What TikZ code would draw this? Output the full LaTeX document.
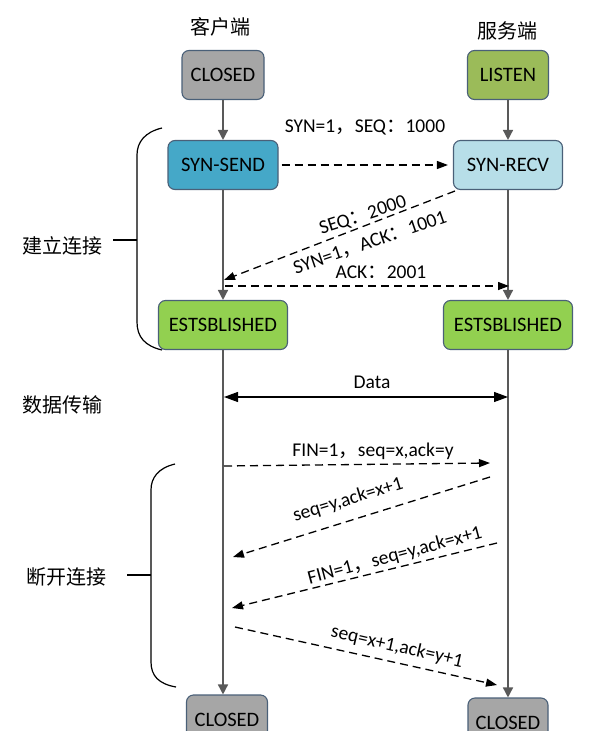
\documentclass[tikz,border=0pt]{standalone}
\usepackage{fontspec}
\setmainfont{Carlito}
\newfontfamily\cjk{Noto Sans CJK SC}
\usepackage{tikz}
\usetikzlibrary{shapes,arrows.meta,positioning,calc}

\definecolor{boxline}{HTML}{4A6078}
\definecolor{lifegray}{HTML}{595959}
\definecolor{closedgray}{HTML}{A6A6A6}
\definecolor{listengreen}{HTML}{9BBB59}
\definecolor{sendblue}{HTML}{45A8C8}
\definecolor{recvblue}{HTML}{B7DEE8}
\definecolor{estgreen}{HTML}{92D050}

\begin{document}
\begin{tikzpicture}[x=1pt, y=-1pt,
    state/.style={rectangle, rounded corners=7pt, draw=boxline, line width=1.1pt, minimum height=49pt, inner sep=0pt, font=\fontsize{20.5}{24}\selectfont},
    life/.style={draw=lifegray, line width=1.5pt, -{Triangle[length=10pt,width=10pt,fill=lifegray]}},
    msg/.style={dash pattern=on 8pt off 5pt, line width=1.3pt, -{Triangle[length=11pt,width=8pt]}},
    lbl/.style={font=\fontsize{19.5}{23}\selectfont, inner sep=0pt},
    side/.style={font=\cjk\fontsize{20}{24}\selectfont, inner sep=0pt},
    brace/.style={line width=1.2pt}]
        \useasboundingbox (0,0) rectangle (598,731);
        \clip (0,0) rectangle (598,731);

        \node (cliTitle) [side] at (220,27) {客户端};
        \node (srvTitle) [side] at (507,31) {服务端};

        \node (cliClosed) [state, fill=closedgray, minimum width=82pt] at (223,75) {CLOSED};
        \node (srvListen) [state, fill=listengreen, minimum width=81pt] at (508,75) {LISTEN};
        \node (synSend) [state, fill=sendblue, minimum width=110pt] at (223,165) {SYN-SEND};
        \node (synRecv) [state, fill=recvblue, minimum width=109pt] at (508,165) {SYN-RECV};
        \node (cliEst) [state, fill=estgreen, minimum width=129pt] at (223,325) {ESTSBLISHED};
        \node (srvEst) [state, fill=estgreen, minimum width=129pt] at (508,325) {ESTSBLISHED};
        \node (cliEnd) [state, fill=closedgray, minimum width=81pt] at (227,719.5) {CLOSED};
        \node (srvEnd) [state, fill=closedgray, minimum width=80pt] at (508,722.5) {CLOSED};

        \draw[life] (cliClosed) -- (synSend);
        \draw[life] (srvListen) -- (synRecv);
        \draw[life] (synSend) -- (cliEst);
        \draw[life] (synRecv) -- (srvEst);
        \draw[life] (cliEst.south) -- (cliEst.south |- cliEnd.north);
        \draw[life] (srvEst) -- (srvEnd);

        \coordinate (recvOut) at (455,191);
        \coordinate (cliIn) at (224,280);
        \coordinate (cliOut) at (225,286);
        \coordinate (srvIn) at (509,286);
        \coordinate (dataL) at (224,397);
        \coordinate (dataR) at (508,397);
        \coordinate (finOut) at (224,466);
        \coordinate (finIn) at (490,463);
        \coordinate (ackOut) at (490,477);
        \coordinate (ackIn) at (233,557);
        \coordinate (fin2Out) at (497,543);
        \coordinate (fin2In) at (232,608);
        \coordinate (lastOut) at (235,627);
        \coordinate (lastIn) at (497,685);

        \draw[msg, shorten <=3pt, shorten >=5pt] (synSend) -- (synRecv);
        \draw[msg] (recvOut) -- (cliIn);
        \draw[msg] (cliOut) -- (srvIn);
        \draw[line width=1.2pt, {Triangle[length=14pt,width=10pt]}-{Triangle[length=14pt,width=10pt]}] (dataL) -- (dataR);
        \draw[msg] (finOut) -- (finIn);
        \draw[msg] (ackOut) -- (ackIn);
        \draw[msg] (fin2Out) -- (fin2In);
        \draw[msg] (lastOut) -- (lastIn);

        \node (lblSyn) [lbl] at (365,127) {SYN=1{\cjk ，}SEQ{\cjk ：}1000};
        \node (lblSeq) [lbl, rotate=18] at (363,216) {SEQ{\cjk ：}2000};
        \node (lblSynAck) [lbl, rotate=19] at (370,243) {SYN=1{\cjk ，}ACK{\cjk ：}1001};
        \node (lblAck) [lbl] at (381,272) {ACK{\cjk ：}2001};
        \node (lblData) [lbl] at (372,382) {Data};
        \node (lblFin) [lbl] at (373,451) {FIN=1{\cjk ，}seq=x,ack=y};
        \node (lblAck1) [lbl, rotate=17] at (348,500) {seq=y,ack=x+1};
        \node (lblFin2) [lbl, rotate=15] at (395,556) {FIN=1{\cjk ，}seq=y,ack=x+1};
        \node (lblLast) [lbl, rotate=-13] at (397,647) {seq=x+1,ack=y+1};

        \node (phaseOpen) [side] at (62,246) {建立连接};
        \node (phaseData) [side] at (63,405) {数据传输};
        \node (phaseClose) [side] at (66,577) {断开连接};

        \draw[brace] (162,128) .. controls (145,132) and (137,142) .. (137,155) -- (137,322) .. controls (137,337) and (145,346) .. (162,350);
        \draw[brace] (113,240) -- (137,240);
        \draw[brace] (175,464) .. controls (158,468) and (151,478) .. (151,490) -- (151,662) .. controls (151,676) and (159,684) .. (176,687);
        \draw[brace] (127,575) -- (151,575);
    \end{tikzpicture}
\end{document}
